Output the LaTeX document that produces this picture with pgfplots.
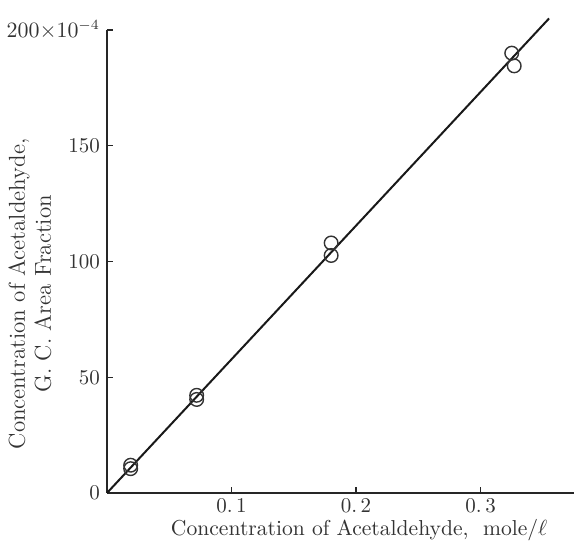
\documentclass[border=0pt]{standalone}
\usepackage{pgfplots}
\pgfplotsset{compat=1.18}
\begin{document}
\begin{tikzpicture}
\useasboundingbox (-53.5pt,-25.5pt) rectangle (233.5pt,246.5pt);
\begin{axis}[
  scale only axis,
  width=233.5pt, height=231.5pt,
  xmin=0, xmax=0.375, ymin=0, ymax=200,
  axis lines=left,
  axis line style={-, line width=0.7pt, black!85},
  tick align=inside,
  major tick length=3pt,
  tick style={black!85, line width=0.6pt},
  xtick={0.1,0.2,0.3},
  xticklabels={0.\,1,0.\,2,0.\,3},
  ytick={0,50,100,150,200},
  yticklabels={0,50,100,150,$200{\times}10^{-4}$},
  xticklabel style={yshift=1pt},
  tick label style={font=\fontsize{10.5}{12}\selectfont, text=black!80},
  xlabel={Concentration of Acetaldehyde,\ \ mole/$\ell$},
  xlabel style={at={(axis description cs:0.54,-0.08)}, anchor=center, text=black!80, font=\fontsize{10.8}{12}\selectfont},
  ylabel={Concentration of Acetaldehyde,\\G. C. Area Fraction},
  ylabel style={at={(axis description cs:-0.165,0.43)}, anchor=center, align=center, text=black!80, font=\fontsize{11.5}{13}\selectfont},
  clip=false,
]
\addplot[black!90, line width=1pt] coordinates {(0,0) (0.355,205)};
\addplot[only marks, mark=o, mark size=3.4pt, mark options={line width=0.7pt, black!80}] coordinates {
  (0.019,10.5) (0.019,12)
  (0.072,42.2) (0.072,40.4)
  (0.180,108) (0.180,102.6)
  (0.325,190) (0.327,184.5)
};
\end{axis}
\end{tikzpicture}
\end{document}
